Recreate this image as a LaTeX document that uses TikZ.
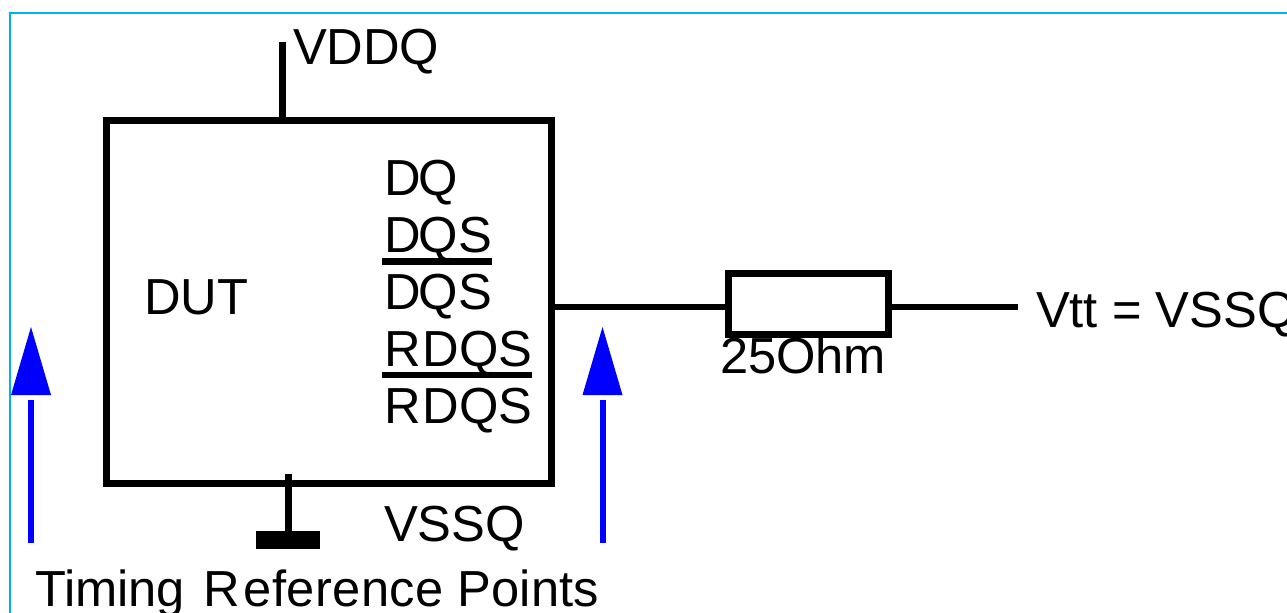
\documentclass[tikz,border=0pt]{standalone}
\usepackage{fontspec}
\setmainfont{Liberation Sans}
\usetikzlibrary{arrows.meta,positioning}
\definecolor{framecyan}{HTML}{00B0F0}
\definecolor{refblue}{HTML}{0000FF}
\tikzset{
    block/.style = {draw, rectangle, line width=5.25pt, inner sep=0pt, outer sep=0pt},
    wire/.style = {draw, line width=4.5pt},
    pin/.style = {draw, line width=5.25pt},
    overbar/.style = {draw, line width=5pt},
    timing/.style = {draw=refblue, line width=4.5pt,
        -{Rectangle[length=3.75pt,width=6pt,line width=0pt,white,fill=white]Triangle[length=51pt,width=30pt,line width=0pt,refblue,fill=refblue]}},
    label/.style = {inner sep=0pt, outer sep=0pt, anchor=base west},
    pinlabel/.style = {inner sep=0pt, outer sep=0pt, text height=27pt, text depth=0pt},
}

\begin{document}
\begin{tikzpicture}[x=0.75pt, y=-0.75pt, node distance=15.75pt, font=\fontsize{38pt}{40pt}\selectfont]
		\useasboundingbox (0,0) rectangle (1287,613);
		% outer frame
		\coordinate (frameBL) at (10,613);
		\coordinate (frameTL) at (10,13);
		\coordinate (frameTR) at (1287,13);
		\draw [framecyan, line width=1.75pt] (frameBL) -- (frameTL) -- (frameTR);
		
		% device
		\node [block, minimum width=333.75pt, minimum height=272pt] (dut) at (329,301.75) {};
		\node [label] (dutLabel) at (144,314.5) {DUT};
		
		\node [pinlabel, anchor=north west] (dq) at (384,159.5) {D\kern-1.5pt Q};
		\node [pinlabel, below=of dq.south west, anchor=north west] (dqs) {D\kern-1.5pt QS};
		\node [pinlabel, below=of dqs.south west, anchor=north west] (dqsn) {D\kern-1.5pt QS};
		\node [pinlabel, below=of dqsn.south west, anchor=north west] (rdqs) {R\kern1.5pt DQS};
		\node [pinlabel, below=of rdqs.south west, anchor=north west] (rdqsn) {R\kern1.5pt DQS};
		
		\coordinate (dqsBarL) at (382,261.5);
		\coordinate (dqsBarR) at (492,261.5);
		\coordinate (rdqsBarL) at (382,375);
		\coordinate (rdqsBarR) at (532,375);
		\draw [overbar] (dqsBarL) -- (dqsBarR);
		\draw [overbar] (rdqsBarL) -- (rdqsBarR);
		
		% supply and ground
		\coordinate (vddqTop) at (282.5,42);
		\node [label] (vddq) at (293,65) {VDDQ};
		\draw [pin] (vddqTop) -- (vddqTop |- dut.north);
		
		\coordinate (gndTop) at (288.5,474);
		\node [fill, inner sep=0pt, minimum width=48pt, minimum height=13.5pt] (gndBar) at (288,540) {};
		\draw [pin] (gndTop) -- (gndBar.north -| gndTop);
		\node [label] (vssq) at (384,541) {VSSQ};
		
		% output and resistor
		\node [block, minimum width=120pt, minimum height=46pt] (res) at (808,304) {};
		\node [label] (resLabel) at (720,373) {25Ohm};
		\coordinate (wireIn) at (551.5,306.5);
		\coordinate (wireEnd) at (1018,306.5);
		\draw [wire] (wireIn) -- (wireIn -| res.west);
		\draw [wire] (wireEnd -| res.east) -- (wireEnd);
		\node [label] (vtt) at (1036,327) {Vtt = VSSQ};
		
		% timing points
		\coordinate (leftFoot) at (31,543);
		\coordinate (leftTip) at (31,327);
		\coordinate (rightFoot) at (602.5,543);
		\coordinate (rightTip) at (602.5,327);
		\draw [timing] (leftFoot) -- (leftTip);
		\draw [timing] (rightFoot) -- (rightTip);
		\node [label] (timingLabel) at (35,606.5) {Timing\kern3pt\ R\kern3pt{\addfontfeature{LetterSpace=0.8}eference} Points};
	\end{tikzpicture}
\end{document}
